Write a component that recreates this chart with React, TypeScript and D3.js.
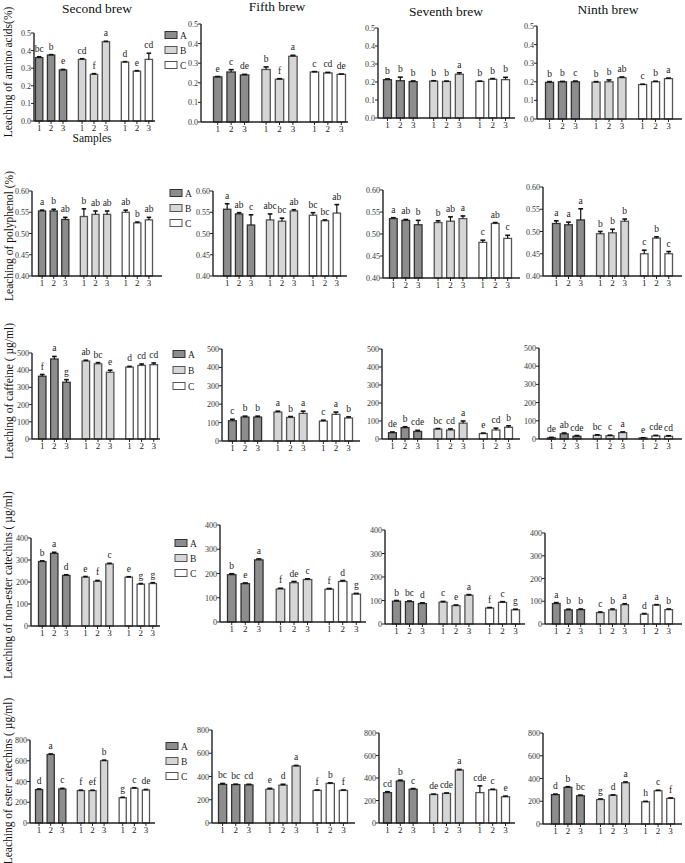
import React from "react";
import * as d3 from "d3";

const brews = ["Second brew", "Fifth brew", "Seventh brew", "Ninth brew"];
const groups = ["A", "B", "C"];
const samples = ["1", "2", "3"];

// Amino acids (%)
const aminoMeans = [
  [0.36, 0.375, 0.29, 0.35, 0.265, 0.45, 0.335, 0.283, 0.35],
  [0.23, 0.255, 0.24, 0.268, 0.218, 0.335, 0.255, 0.25, 0.243],
  [0.213, 0.207, 0.202, 0.205, 0.203, 0.243, 0.203, 0.215, 0.213],
  [0.197, 0.2, 0.2, 0.198, 0.2, 0.222, 0.185, 0.2, 0.217],
];
const aminoErrs = [
  [0.005, 0.002, 0.003, 0.004, 0.004, 0.003, 0.002, 0.003, 0.035],
  [0.002, 0.012, 0.003, 0.013, 0.003, 0.005, 0.002, 0.003, 0.002],
  [0.004, 0.02, 0.004, 0.002, 0.002, 0.008, 0.002, 0.004, 0.013],
  [0.004, 0.002, 0.004, 0.003, 0.01, 0.004, 0.002, 0.003, 0.003],
];
const aminoLetters = [
  ["bc", "b", "e", "cd", "f", "a", "d", "e", "cd"],
  ["e", "c", "de", "b", "f", "a", "c", "cd", "de"],
  ["b", "b", "b", "b", "b", "a", "b", "b", "b"],
  ["b", "b", "c", "b", "b", "ab", "c", "b", "a"],
];
const aminoTicks = ["0.0", "0.1", "0.2", "0.3", "0.4", "0.5"];

// Polyphenol (%)
const polyMeans = [
  [0.553, 0.553, 0.533, 0.54, 0.545, 0.545, 0.55, 0.525, 0.532],
  [0.557, 0.546, 0.52, 0.532, 0.529, 0.553, 0.543, 0.53, 0.548],
  [0.535, 0.531, 0.521, 0.526, 0.529, 0.535, 0.481, 0.524, 0.49],
  [0.518, 0.515, 0.526, 0.495, 0.497, 0.523, 0.45, 0.485, 0.45],
];
const polyErrs = [
  [0.002, 0.004, 0.005, 0.018, 0.008, 0.008, 0.005, 0.002, 0.006],
  [0.013, 0.003, 0.024, 0.014, 0.007, 0.003, 0.006, 0.002, 0.02],
  [0.002, 0.002, 0.01, 0.004, 0.01, 0.006, 0.005, 0.002, 0.007],
  [0.006, 0.006, 0.025, 0.005, 0.008, 0.005, 0.008, 0.003, 0.005],
];
const polyLetters = [
  ["a", "b", "ab", "b", "ab", "ab", "ab", "b", "ab"],
  ["a", "ab", "c", "abc", "bc", "ab", "bc", "bc", "ab"],
  ["a", "ab", "b", "b", "ab", "a", "c", "ab", "c"],
  ["a", "a", "a", "b", "b", "b", "c", "b", "c"],
];
const polyTicks = ["0.40", "0.45", "0.50", "0.55", "0.60"];

// Caffeine (µg/ml)
const caffMeans = [
  [365, 465, 330, 453, 437, 388, 418, 428, 432],
  [110, 130, 130, 157, 128, 150, 108, 145, 125],
  [35, 63, 42, 55, 50, 88, 30, 50, 65],
  [6, 28, 15, 20, 18, 35, 6, 17, 15],
];
const caffErrs = [
  [10, 15, 15, 5, 7, 12, 4, 8, 10],
  [8, 5, 5, 5, 5, 12, 5, 12, 6],
  [4, 5, 6, 3, 6, 12, 3, 10, 8],
  [3, 5, 4, 3, 3, 4, 1, 3, 3],
];
const caffLetters = [
  ["f", "a", "g", "ab", "bc", "e", "d", "cd", "cd"],
  ["c", "b", "b", "a", "b", "a", "c", "a", "b"],
  ["de", "b", "cde", "bc", "cd", "a", "e", "cd", "b"],
  ["de", "ab", "cde", "bc", "c", "a", "e", "cde", "cd"],
];
const caffTicks = ["0", "100", "200", "300", "400", "500"];

// Non-ester catechins (µg/ml)
const nonEsterMeans = [
  [293, 330, 230, 222, 203, 282, 222, 190, 193],
  [195, 158, 256, 136, 162, 175, 135, 167, 115],
  [97, 95, 87, 93, 78, 122, 68, 92, 60],
  [90, 62, 63, 50, 62, 85, 43, 83, 63],
];
const nonEsterErrs = [
  [3, 5, 3, 3, 4, 3, 2, 3, 4],
  [4, 3, 4, 3, 5, 3, 3, 4, 3],
  [3, 3, 3, 3, 3, 3, 2, 3, 3],
  [4, 3, 3, 3, 4, 4, 3, 2, 3],
];
const nonEsterLetters = [
  ["b", "a", "d", "e", "f", "c", "e", "g", "g"],
  ["b", "e", "a", "f", "de", "c", "f", "d", "g"],
  ["b", "bc", "d", "c", "e", "a", "f", "c", "g"],
  ["a", "b", "b", "c", "b", "a", "d", "a", "b"],
];
const nonEsterTicks = ["0", "100", "200", "300", "400"];

// Ester catechins (µg/ml)
const esterMeans = [
  [322, 660, 328, 312, 312, 600, 243, 335, 318],
  [332, 330, 328, 290, 325, 490, 280, 340, 280],
  [270, 373, 300, 253, 263, 470, 270, 295, 233],
  [258, 322, 248, 215, 252, 362, 195, 292, 225],
];
const esterErrs = [
  [6, 6, 6, 5, 4, 6, 5, 5, 5],
  [8, 4, 5, 8, 8, 5, 4, 5, 4],
  [8, 8, 6, 4, 4, 6, 60, 5, 6],
  [5, 6, 6, 5, 4, 8, 4, 5, 4],
];
const esterLetters = [
  ["d", "a", "c", "f", "ef", "b", "g", "c", "de"],
  ["bc", "bc", "cd", "e", "d", "a", "f", "b", "f"],
  ["cd", "b", "c", "de", "cde", "a", "cde", "c", "e"],
  ["d", "b", "bc", "g", "d", "a", "h", "c", "f"],
];
const esterTicks = ["0", "200", "400", "600", "800"];

const rowTitles = [
  "Leaching of amino acids(%)",
  "Leaching of polyphenol (%)",
  "Leaching of caffeine ( \u00b5g/ml)",
  "Leaching of non-ester catechins ( \u00b5g/ml)",
  "Leaching of ester catechins ( \u00b5g/ml)",
];

const measures = [
  { means: aminoMeans, errs: aminoErrs, letters: aminoLetters, ticks: aminoTicks },
  { means: polyMeans, errs: polyErrs, letters: polyLetters, ticks: polyTicks },
  { means: caffMeans, errs: caffErrs, letters: caffLetters, ticks: caffTicks },
  { means: nonEsterMeans, errs: nonEsterErrs, letters: nonEsterLetters, ticks: nonEsterTicks },
  { means: esterMeans, errs: esterErrs, letters: esterLetters, ticks: esterTicks },
];

// ---------- layout (pixels) ----------
const layout = [
  [
    { ax: 34, b0: 35, b1: 153, ae: 155, yt: 33, yb: 121 },
    { ax: 201, b0: 213, b1: 346, ae: 348, yt: 24, yb: 122 },
    { ax: 378, b0: 383, b1: 510, ae: 515, yt: 28, yb: 118 },
    { ax: 537, b0: 545, b1: 673, ae: 682, yt: 26, yb: 119 },
  ],
  [
    { ax: 32, b0: 38, b1: 153, ae: 162, yt: 191, yb: 276 },
    { ax: 213, b0: 223, b1: 341, ae: 347, yt: 191, yb: 276 },
    { ax: 383, b0: 389, b1: 512, ae: 520, yt: 190, yb: 278 },
    { ax: 543, b0: 552, b1: 673, ae: 682, yt: 187, yb: 276 },
  ],
  [
    { ax: 32, b0: 38, b1: 158, ae: 160, yt: 353, yb: 439 },
    { ax: 222, b0: 228, b1: 353, ae: 360, yt: 349, yb: 441 },
    { ax: 382, b0: 388, b1: 513, ae: 520, yt: 349, yb: 439 },
    { ax: 539, b0: 547, b1: 673, ae: 682, yt: 348, yb: 439 },
  ],
  [
    { ax: 31, b0: 38, b1: 157, ae: 160, yt: 538, yb: 626 },
    { ax: 220, b0: 227, b1: 361, ae: 366, yt: 525, yb: 622 },
    { ax: 385, b0: 392, b1: 520, ae: 525, yt: 530, yb: 624 },
    { ax: 545, b0: 552, b1: 673, ae: 682, yt: 533, yb: 624 },
  ],
  [
    { ax: 30, b0: 35, b1: 150, ae: 155, yt: 740, yb: 823 },
    { ax: 212, b0: 218, b1: 348, ae: 355, yt: 730, yb: 823 },
    { ax: 379, b0: 383, b1: 510, ae: 515, yt: 733, yb: 823 },
    { ax: 543, b0: 551, b1: 675, ae: 682, yt: 733, yb: 824 },
  ],
];
const rowTitlePos = [
  { x: 8, y: 72 },
  { x: 9, y: 236 },
  { x: 9, y: 391 },
  { x: 8, y: 585 },
  { x: 8, y: 781 },
];
const legendPos = [
  { x: 165, y: 35, dy: 15 },
  { x: 170, y: 193, dy: 15 },
  { x: 173, y: 354, dy: 16 },
  { x: 175, y: 543, dy: 15 },
  { x: 166, y: 746, dy: 15 },
];
const brewTitlePos = [
  { x: 97, y: 13 },
  { x: 277, y: 11 },
  { x: 446, y: 16 },
  { x: 608, y: 14 },
];

const slotPos = [0, 1, 2, 3.6, 4.6, 5.6, 7.2, 8.2, 9.2];
const barW = 0.7;
const fills = ["#8d8d8d", "#d6d6d6", "#ffffff"];
const strokes = ["#333333", "#555555", "#555555"];
const FONT = "Liberation Serif, Times New Roman, DejaVu Serif, serif";

function T(props: any) {
  const { style, ...rest } = props;
  return <text {...rest} style={{ fontFamily: FONT, ...(style || {}) }} />;
}

function Panel({ r, c }: { r: number; c: number }) {
  const L = layout[r][c];
  const m = measures[r];
  const tickVals = m.ticks.map(Number);
  const y = d3
    .scaleLinear()
    .domain([tickVals[0], tickVals[tickVals.length - 1]])
    .range([L.yb, L.yt]);
  const x = d3.scaleLinear().domain([0, 9.2 + barW]).range([L.b0, L.b1]);
  const means = m.means[c];
  const errs = m.errs[c];
  const letters = m.letters[c];
  return (
    <g>
      {means.map((v, i) => {
        const g = Math.floor(i / 3);
        const x0 = x(slotPos[i]);
        const x1 = x(slotPos[i] + barW);
        const cx = (x0 + x1) / 2;
        const yTop = y(v);
        const yErr = y(v + errs[i]);
        const capW = (x1 - x0) * 0.55;
        return (
          <g key={i}>
            <rect
              x={x0 + 0.5}
              y={yTop}
              width={x1 - x0 - 1}
              height={L.yb - yTop}
              fill={fills[g]}
              stroke={strokes[g]}
              strokeWidth={1.3}
            />
            <line x1={cx} x2={cx} y1={yTop} y2={yErr} stroke="#111" strokeWidth={1.2} />
            <line x1={cx - capW / 2} x2={cx + capW / 2} y1={yErr} y2={yErr} stroke="#111" strokeWidth={1.6} />
            <T x={cx} y={yErr - 5} textAnchor="middle" fontSize={9.5} fill="#222">
              {letters[i]}
            </T>
            <line x1={cx} x2={cx} y1={L.yb} y2={L.yb + 3} stroke="#222" strokeWidth={1} />
            <T x={cx} y={L.yb + 10} textAnchor="middle" fontSize={9} fill="#222">
              {samples[i % 3]}
            </T>
          </g>
        );
      })}
      <line x1={L.ax} x2={L.ax} y1={L.yb} y2={L.yt} stroke="#222" strokeWidth={1.4} />
      <line x1={L.ax} x2={L.ae} y1={L.yb} y2={L.yb} stroke="#222" strokeWidth={1.4} />
      {tickVals.map((t, i) => (
        <g key={"t" + i}>
          <line x1={L.ax - 3} x2={L.ax} y1={y(t)} y2={y(t)} stroke="#222" strokeWidth={1} />
          <T x={L.ax - 3} y={y(t) + 3} textAnchor="end" fontSize={8} fill="#333">
            {m.ticks[i]}
          </T>
        </g>
      ))}
    </g>
  );
}

export default function App() {
  return (
    <svg
      width={685}
      height={863}
      style={{ position: "absolute", left: 0, top: 0, background: "#fff" }}
    >
      <rect x={0} y={0} width={685} height={863} fill="#fff" />
      {brews.map((b, i) => (
        <T key={b} x={brewTitlePos[i].x} y={brewTitlePos[i].y} textAnchor="middle" fontSize={13.5} fill="#111">
          {b}
        </T>
      ))}
      {measures.map((_, r) =>
        brews.map((__, c) => <Panel key={r + "-" + c} r={r} c={c} />)
      )}
      {rowTitles.map((t, r) => (
        <T
          key={t}
          transform={`translate(${rowTitlePos[r].x},${rowTitlePos[r].y}) rotate(-90)`}
          textAnchor="middle"
          dominantBaseline="central"
          fontSize={11.5}
          fill="#111"
        >
          {t}
        </T>
      ))}
      <T x={92} y={142} textAnchor="middle" fontSize={11.5} fill="#111">
        Samples
      </T>
      {legendPos.map((p, r) => (
        <g key={"leg" + r}>
          {groups.map((g, i) => (
            <g key={g}>
              <rect
                x={p.x}
                y={p.y + i * p.dy - 3.5}
                width={12}
                height={7}
                fill={fills[i]}
                stroke={strokes[i]}
                strokeWidth={1}
              />
              <T x={p.x + 15} y={p.y + i * p.dy + 3.5} fontSize={9.5} fill="#222">
                {g}
              </T>
            </g>
          ))}
        </g>
      ))}
    </svg>
  );
}
